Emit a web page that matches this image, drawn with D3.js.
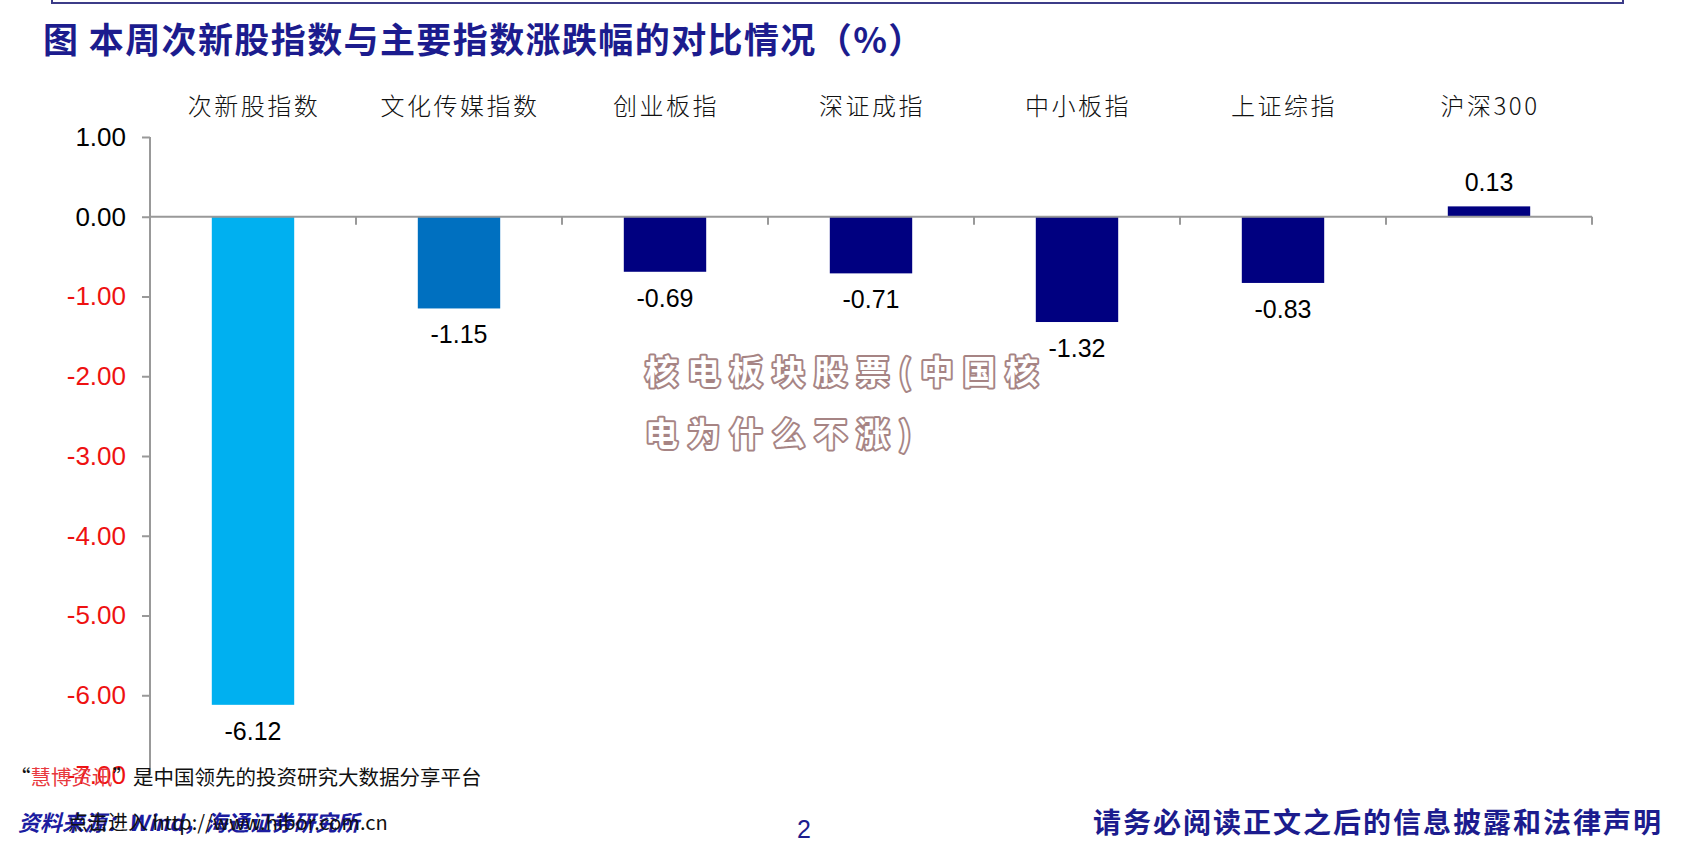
<!DOCTYPE html>
<html>
<head>
<meta charset="utf-8">
<script src="https://cdn.jsdelivr.net/npm/d3@7/dist/d3.min.js"></script>
<style>
  html, body { margin: 0; padding: 0; background: #ffffff; }
  svg { display: block; }
</style>
</head>
<body>
<svg id="chart" width="1684" height="845"></svg>
<script>
// ---- data ----
const categories = ["次新股指数", "文化传媒指数", "创业板指", "深证成指", "中小板指", "上证综指", "沪深300"];
const values = [-6.12, -1.15, -0.69, -0.71, -1.32, -0.83, 0.13];
const barColors = ["#00b0f0", "#0070c0", "#000080", "#000080", "#000080", "#000080", "#000080"];
const yTicks = [1, 0, -1, -2, -3, -4, -5, -6, -7];
const titleText = "图 本周次新股指数与主要指数涨跌幅的对比情况（%）";
const watermarkLines = ["核电板块股票(中国核", "电为什么不涨)"];

const svg = d3.select("#chart");
svg.append("rect").attr("width", 1684).attr("height", 845).attr("fill", "#fff");

const sansCJK = "'Noto Sans CJK SC', 'Noto Sans', sans-serif";
const latin = "'Liberation Sans', Arial, sans-serif";
const fmt = d => d3.format(".2f")(d).replace("\u2212", "-");

// top frame
svg.append("path")
  .attr("d", "M52,-5 L52,3 L1623,3 L1623,-5")
  .attr("fill", "none").attr("stroke", "#3c3c88").attr("stroke-width", 2);

// title
svg.append("text")
  .attr("x", 43).attr("y", 37)
  .attr("dominant-baseline", "central")
  .attr("font-family", sansCJK).attr("font-weight", "bold")
  .attr("font-size", 35).attr("letter-spacing", 1.4).attr("fill", "#1c1c8e")
  .text(titleText);

// scales
const x = d3.scaleBand().domain(categories).range([150, 1592]).paddingInner(0.6).paddingOuter(0.3);
const y = d3.scaleLinear().domain([-7, 1]).range([775, 137]);

const axisColor = "#999999";

// y axis
const yAxis = svg.append("g").attr("transform", "translate(150,0)")
  .call(d3.axisLeft(y).tickValues(yTicks).tickSize(8).tickPadding(16).tickFormat(fmt));
yAxis.select(".domain").attr("stroke", axisColor).attr("stroke-width", 2).attr("d", `M0,${y(1)}V${y(-7)}`);
yAxis.selectAll(".tick line").attr("stroke", axisColor).attr("stroke-width", 2);
yAxis.selectAll(".tick text")
  .attr("font-family", latin).attr("font-size", 26)
  .attr("fill", d => d < 0 ? "#ee1111" : "#000");

// bars
svg.append("g").selectAll("rect").data(values).join("rect")
  .attr("x", (d, i) => x(categories[i]))
  .attr("width", x.bandwidth())
  .attr("y", d => y(Math.max(0, d)))
  .attr("height", d => Math.abs(y(d) - y(0)))
  .attr("fill", (d, i) => barColors[i]);

// zero line with category boundary ticks
const step = x.step();
const x0 = x.range()[0];
const zero = svg.append("g");
zero.append("line").attr("x1", x0).attr("x2", x.range()[1]).attr("y1", y(0)).attr("y2", y(0))
  .attr("stroke", axisColor).attr("stroke-width", 2);
zero.selectAll("line.t").data(d3.range(1, categories.length + 1)).join("line")
  .attr("class", "t")
  .attr("x1", i => x0 + i * step).attr("x2", i => x0 + i * step)
  .attr("y1", y(0)).attr("y2", y(0) + 8)
  .attr("stroke", axisColor).attr("stroke-width", 2);

// category labels at top
svg.append("g").selectAll("text").data(categories).join("text")
  .attr("x", d => x(d) + x.bandwidth() / 2 + 1)
  .attr("y", 104)
  .attr("text-anchor", "middle").attr("dominant-baseline", "central")
  .attr("font-family", sansCJK).attr("font-size", 24).attr("font-weight", 300)
  .attr("letter-spacing", 2.5)
  .attr("fill", "#111")
  .text(d => d);

// value labels
svg.append("g").selectAll("text").data(values).join("text")
  .attr("x", (d, i) => x(categories[i]) + x.bandwidth() / 2)
  .attr("y", d => d >= 0 ? y(d) - 24 : y(d) + 26)
  .attr("text-anchor", "middle").attr("dominant-baseline", "central")
  .attr("font-family", latin).attr("font-size", 25).attr("fill", "#000")
  .text(fmt);

// watermark
const wm = svg.append("g");
wm.selectAll("text").data(watermarkLines).join("text")
  .attr("x", 645).attr("y", (d, i) => 370 + i * 62)
  .attr("dominant-baseline", "central")
  .attr("font-family", sansCJK).attr("font-weight", "bold")
  .attr("font-size", 33).attr("letter-spacing", 9.3)
  .attr("fill", "#ffffff").attr("stroke", "#a68484").attr("stroke-width", 4)
  .attr("paint-order", "stroke").attr("stroke-linejoin", "round")
  .text(d => d);

// footer
const f1 = svg.append("text").attr("x", 10).attr("y", 776)
  .attr("dominant-baseline", "central")
  .attr("font-family", sansCJK).attr("font-size", 20.5).attr("fill", "#111");
f1.append("tspan").text("“");
f1.append("tspan").attr("fill", "#e8383d").text("慧博资讯");
f1.append("tspan").text("”是中国领先的投资研究大数据分享平台");

svg.append("text").attr("x", 18).attr("y", 821)
  .attr("dominant-baseline", "central")
  .attr("font-family", sansCJK).attr("font-weight", "bold").attr("font-style", "italic")
  .attr("font-size", 22).attr("fill", "#1c1ca0")
  .text("资料来源：Wind，海通证券研究所");

svg.append("text").attr("x", 68).attr("y", 821)
  .attr("dominant-baseline", "central")
  .attr("font-family", sansCJK).attr("font-size", 20).attr("fill", "#111")
  .text("点击进入 http://www.hibor.com.cn");

svg.append("text").attr("x", 804).attr("y", 829)
  .attr("text-anchor", "middle").attr("dominant-baseline", "central")
  .attr("font-family", latin).attr("font-size", 25).attr("fill", "#1c1c8e")
  .text("2");

svg.append("text").attr("x", 1663).attr("y", 821)
  .attr("text-anchor", "end").attr("dominant-baseline", "central")
  .attr("font-family", sansCJK).attr("font-weight", "bold")
  .attr("font-size", 28).attr("letter-spacing", 2).attr("fill", "#1c1c8e")
  .text("请务必阅读正文之后的信息披露和法律声明");
</script>
</body>
</html>
